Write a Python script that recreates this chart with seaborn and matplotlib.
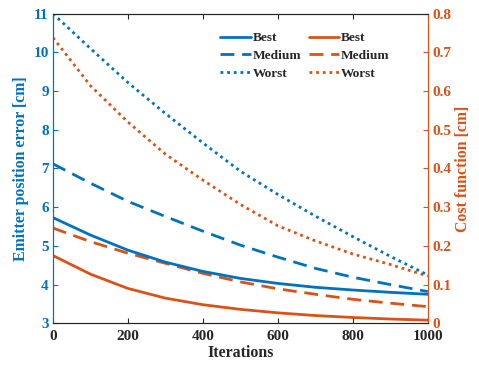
import numpy as np
import pandas as pd
import matplotlib
matplotlib.use("Agg")
import matplotlib.pyplot as plt
import seaborn as sns
from matplotlib.lines import Line2D

iterations = [0, 100, 200, 300, 400, 500, 600, 700, 800, 900, 1000]
err_best = [5.73, 5.28, 4.89, 4.58, 4.34, 4.16, 4.03, 3.93, 3.86, 3.80, 3.75]
err_medium = [7.12, 6.62, 6.15, 5.76, 5.38, 5.02, 4.71, 4.42, 4.19, 4.00, 3.82]
err_worst = [11.0, 10.1, 9.22, 8.42, 7.66, 6.93, 6.33, 5.77, 5.24, 4.73, 4.25]
cost_best = [0.175, 0.127, 0.090, 0.065, 0.048, 0.036, 0.027, 0.020, 0.015, 0.011, 0.008]
cost_medium = [0.246, 0.211, 0.181, 0.155, 0.129, 0.107, 0.089, 0.075, 0.062, 0.052, 0.043]
cost_worst = [0.738, 0.614, 0.520, 0.437, 0.370, 0.307, 0.252, 0.213, 0.179, 0.152, 0.122]
labels = ["Best", "Medium", "Worst"]
xticks = [0, 200, 400, 600, 800, 1000]
left_ticks = [3, 4, 5, 6, 7, 8, 9, 10, 11]
right_ticks = [0, 0.1, 0.2, 0.3, 0.4, 0.5, 0.6, 0.7, 0.8]

BLUE = "#0072BD"
ORANGE = "#D95319"

sns.set_style("ticks")
plt.rcParams["font.family"] = ["Liberation Serif", "DejaVu Serif"]
plt.rcParams["font.weight"] = "bold"
plt.rcParams["axes.labelweight"] = "bold"

fig = plt.figure(figsize=(4.79, 3.66), dpi=100)
ax = fig.add_axes([0.1106, 0.1167, 0.7824, 0.8459])
ax2 = ax.twinx()

lw = 2.0
styles = [dict(linestyle="-"), dict(dashes=(5, 2.8)), dict(dashes=(1, 1.4))]

err_df = pd.DataFrame({"it": iterations, "Best": err_best, "Medium": err_medium, "Worst": err_worst})
cost_df = pd.DataFrame({"it": iterations, "Best": cost_best, "Medium": cost_medium, "Worst": cost_worst})

handles_b, handles_o = [], []
for lab, st in zip(labels, styles):
    sns.lineplot(data=err_df, x="it", y=lab, ax=ax, color=BLUE, lw=lw, **st)
    sns.lineplot(data=cost_df, x="it", y=lab, ax=ax2, color=ORANGE, lw=lw, **st)
    handles_b.append(Line2D([], [], color=BLUE, lw=lw, **st))
    handles_o.append(Line2D([], [], color=ORANGE, lw=lw, **st))

ax.set_xlim(0, 1000)
ax.set_ylim(3, 11)
ax2.set_ylim(0, 0.8)
ax.set_xticks(xticks)
ax.set_yticks(left_ticks)
ax2.set_yticks(right_ticks)
ax2.set_yticklabels(["0"] + [f"{v:.1f}" for v in right_ticks[1:]])

fs = 11
lfs = 11.4
ax.set_xlabel("Iterations", fontsize=lfs, fontweight="bold", labelpad=1)
ax.set_ylabel("Emitter position error [cm]", fontsize=lfs, fontweight="bold", color=BLUE, labelpad=3)
ax2.set_ylabel("Cost function [cm]", fontsize=lfs, fontweight="bold", color=ORANGE, labelpad=3)

for a in (ax, ax2):
    a.tick_params(direction="in", length=3.5, width=0.8, labelsize=fs, pad=3)
ax.tick_params(axis="x", top=True, colors="#262626", pad=5)
ax.tick_params(axis="y", colors=BLUE)
ax2.tick_params(axis="y", colors=ORANGE)

for a in (ax, ax2):
    for s in a.spines.values():
        s.set_linewidth(0.8)
        s.set_visible(True)
    a.spines["top"].set_color("#262626")
    a.spines["bottom"].set_color("#262626")
    a.spines["left"].set_color(BLUE)
    a.spines["right"].set_color(ORANGE)
for t in ax.get_xticklabels() + ax.get_yticklabels() + ax2.get_yticklabels():
    t.set_fontweight("bold")
ax.set_zorder(ax2.get_zorder() + 1)
ax.patch.set_visible(False)

leg = ax.legend(handles_b + handles_o, labels + labels, ncol=2, frameon=False,
                loc="upper left", bbox_to_anchor=(220 / 479, 1 - 32 / 366),
                bbox_transform=fig.transFigure, borderaxespad=0, borderpad=0,
                prop={"size": 9.6, "weight": "bold"}, handlelength=2.3,
                handletextpad=0.15, columnspacing=0.55, labelspacing=0.4)

fig.savefig("out.png", dpi=100)
